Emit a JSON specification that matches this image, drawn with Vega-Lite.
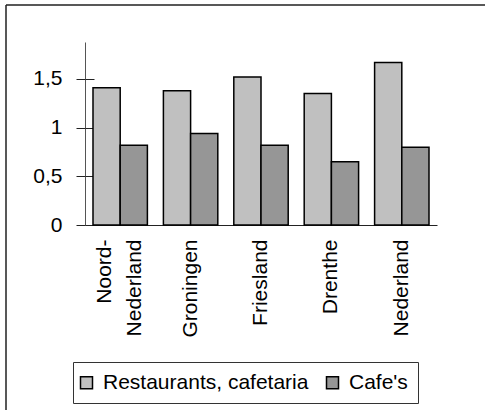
{
  "$schema": "https://vega.github.io/schema/vega-lite/v6.json",
  "width": 479,
  "height": 405,
  "autosize": {"type": "none"},
  "padding": {"left": 6, "top": 5, "right": 0, "bottom": 0},
  "background": "white",
  "config": {
    "font": "Liberation Sans",
    "view": {"stroke": "#222", "strokeWidth": 1.5, "strokeDash": [479, 884, 405, 0]}
  },
  "data": {
    "values": [
      {"region": "Noord-Nederland", "type": "Restaurants, cafetaria", "value": 1.41},
      {"region": "Noord-Nederland", "type": "Cafe's", "value": 0.82},
      {"region": "Groningen", "type": "Restaurants, cafetaria", "value": 1.38},
      {"region": "Groningen", "type": "Cafe's", "value": 0.94},
      {"region": "Friesland", "type": "Restaurants, cafetaria", "value": 1.52},
      {"region": "Friesland", "type": "Cafe's", "value": 0.82},
      {"region": "Drenthe", "type": "Restaurants, cafetaria", "value": 1.35},
      {"region": "Drenthe", "type": "Cafe's", "value": 0.65},
      {"region": "Nederland", "type": "Restaurants, cafetaria", "value": 1.67},
      {"region": "Nederland", "type": "Cafe's", "value": 0.80}
    ]
  },
  "layer": [
    {
      "mark": {"type": "bar", "stroke": "black", "strokeWidth": 1.5},
      "encoding": {
        "x": {
          "field": "region", "type": "nominal", "sort": null,
          "scale": {"range": [79, 431], "paddingInner": 0.2273, "paddingOuter": 0.1136},
          "axis": {
            "orient": "bottom", "offset": -185, "ticks": false, "labelAngle": -90,
            "labelPadding": 14, "labelFontSize": 21, "labelLineHeight": 30,
            "labelOffset": {"condition": {"test": "datum.value == 'Noord-Nederland'", "value": -15}, "value": 0},
            "labelExpr": "datum.label == 'Noord-Nederland' ? ['Noord-', 'Nederland'] : datum.label",
            "title": null, "domainColor": "#222", "domainWidth": 1, "labelColor": "black", "grid": false
          }
        },
        "xOffset": {
          "field": "type", "type": "nominal", "sort": ["Restaurants, cafetaria", "Cafe's"],
          "scale": {"paddingInner": 0, "paddingOuter": 0}
        },
        "y": {
          "field": "value", "type": "quantitative",
          "scale": {"domain": [0, 1.88], "range": [220, 37], "nice": false},
          "axis": {
            "orient": "left", "offset": -79, "values": [0, 0.5, 1, 1.5], "format": "~g",
            "labelExpr": "replace(datum.label, '.', ',')",
            "domainColor": "#555", "tickColor": "#222", "tickSize": 9, "labelPadding": 14,
            "labelFontSize": 21, "labelColor": "black", "title": null, "grid": false
          }
        },
        "color": {
          "field": "type", "type": "nominal",
          "scale": {"domain": ["Restaurants, cafetaria", "Cafe's"], "range": ["#c0c0c0", "#969696"]},
          "legend": {
            "orient": "none", "legendX": 67, "legendY": 357, "direction": "horizontal",
            "title": null, "strokeColor": "#333", "fillColor": "white", "padding": 10,
            "symbolOffset": -7,
            "symbolType": "square", "symbolSize": 144, "symbolStrokeColor": "black",
            "symbolStrokeWidth": 1.5, "symbolOpacity": 1, "labelFontSize": 21, "labelOffset": 6,
            "columnPadding": 14, "labelColor": "black", "labelLimit": 0
          }
        }
      }
    },
    {
      "mark": {"type": "rule", "strokeOpacity": 0},
      "encoding": {
        "y": {
          "field": "value", "type": "quantitative",
          "axis": {
            "orient": "left", "offset": -79, "values": [0, 0.5, 1, 1.5], "tickSize": -9,
            "labels": false, "domain": false, "title": null, "grid": false, "tickColor": "#222"
          }
        }
      }
    }
  ],
  "resolve": {"axis": {"y": "independent"}}
}
